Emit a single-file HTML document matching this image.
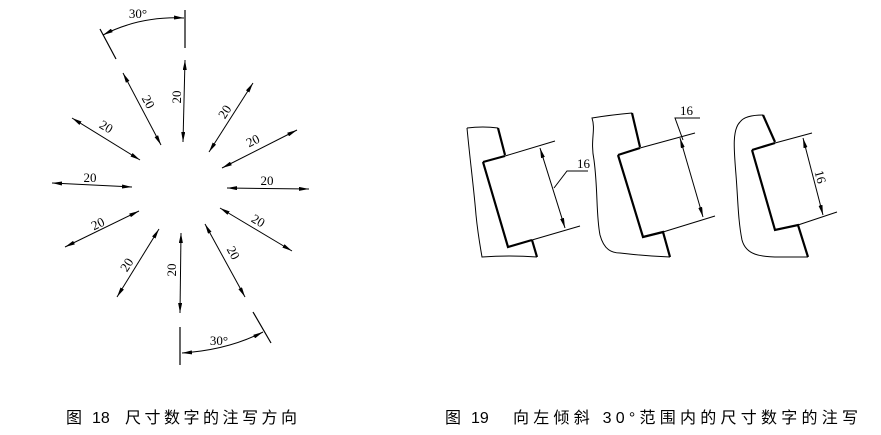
<!DOCTYPE html>
<html><head><meta charset="utf-8"><style>
html,body{margin:0;padding:0;background:#fff;}
svg{display:block;}
text{font-family:"Liberation Serif",serif;font-size:13px;fill:#000;}
.cap{font-family:"Liberation Sans","Noto Sans CJK SC",sans-serif;font-size:16px;}
</style></head><body>
<svg width="881" height="435" viewBox="0 0 881 435" xmlns="http://www.w3.org/2000/svg">
<defs>
<marker id="a" viewBox="0 0 10 4" refX="10" refY="2" markerWidth="10" markerHeight="4" markerUnits="userSpaceOnUse" orient="auto-start-reverse"><path d="M0,0L10,2L0,4z" fill="#000"/></marker>
</defs>
<g stroke="#000" stroke-width="1" fill="none" marker-start="url(#a)" marker-end="url(#a)">
<line x1="185" y1="60" x2="183" y2="142"/>
<line x1="123" y1="73" x2="161" y2="145"/>
<line x1="72" y1="118" x2="140" y2="160"/>
<line x1="52" y1="183" x2="132" y2="187"/>
<line x1="65" y1="247" x2="139" y2="211"/>
<line x1="117" y1="297" x2="159" y2="229"/>
<line x1="180" y1="313" x2="181" y2="233"/>
<line x1="205" y1="224" x2="245" y2="297"/>
<line x1="220" y1="208" x2="292" y2="251"/>
<line x1="227" y1="188" x2="309" y2="189"/>
<line x1="222" y1="168" x2="297" y2="130"/>
<line x1="209" y1="152" x2="253" y2="83"/>
<path d="M103,35 Q140,16 184,18"/>
<path d="M182,353 Q228,350 263,332"/>
</g>
<g stroke="#000" stroke-width="1.2" fill="none">
<line x1="185" y1="10" x2="185" y2="48"/>
<line x1="100" y1="29" x2="116" y2="59"/>
<line x1="180" y1="327" x2="180" y2="365"/>
<line x1="253" y1="312" x2="271" y2="343"/>
</g>
<g text-anchor="middle">
<text transform="translate(177,97) rotate(-90)" dy="4">20</text>
<text transform="translate(148,102) rotate(62)" dy="4">20</text>
<text transform="translate(106,127) rotate(31)" dy="4">20</text>
<text transform="translate(90,178)" dy="4">20</text>
<text transform="translate(98,224) rotate(-26)" dy="4">20</text>
<text transform="translate(127,265) rotate(-57)" dy="4">20</text>
<text transform="translate(172,270) rotate(-90)" dy="4">20</text>
<text transform="translate(233,253) rotate(62)" dy="4">20</text>
<text transform="translate(258,221) rotate(31)" dy="4">20</text>
<text transform="translate(267,181)" dy="4">20</text>
<text transform="translate(253,141) rotate(-27)" dy="4">20</text>
<text transform="translate(225,112) rotate(-57)" dy="4">20</text>
<text x="138" y="18">30°</text>
<text x="219" y="345">30°</text>
</g>
<!-- Fig A -->
<g stroke="#000" fill="none">
<path d="M467,128 Q483,126 498,128 M467,128 C470,160 474,190 476,215 C478,235 480,245 482,257 Q510,255 537,257" stroke-width="1"/>
<path d="M498,128 L505,155 M483,162 L505,156 M483,162 L508,247 L532,240 M532,240 L537,257" stroke-width="2.2"/>
<path d="M505,156 L555,141 M532,240 L580,226" stroke-width="1"/>
<line x1="540" y1="148" x2="565" y2="228" stroke-width="1" marker-start="url(#a)" marker-end="url(#a)"/>
<path d="M554,188 L567,171 L588,171" stroke-width="1"/>
<!-- Fig B -->
<path d="M632,113 Q610,115 592,118 C596,130 590,140 594,160 C598,190 596,215 600,235 C604,250 612,253 620,253 Q645,256 670,257" stroke-width="1"/>
<path d="M632,113 L640,147 M618,155 L640,148 M618,155 L643,237 L663,232 L670,257" stroke-width="2.2"/>
<path d="M640,148 L695,133 M663,232 L715,216" stroke-width="1"/>
<line x1="680" y1="138" x2="703" y2="217" stroke-width="1" marker-start="url(#a)" marker-end="url(#a)"/>
<path d="M683,140 L675,118 L700,118" stroke-width="1"/>
<!-- Fig C -->
<path d="M763,115 Q745,115 740,122 C732,130 734,150 736,175 C738,200 738,220 742,240 C746,255 760,257 780,257 L808,257" stroke-width="1"/>
<path d="M763,115 L775,142 M752,150 L775,143 M752,150 L775,230 L798,225 L808,257" stroke-width="2.2"/>
<path d="M775,143 L812,133 M798,225 L837,212" stroke-width="1"/>
<line x1="803" y1="138" x2="823" y2="215" stroke-width="1" marker-start="url(#a)" marker-end="url(#a)"/>
</g>
<text x="577" y="168">16</text>
<text x="680" y="115">16</text>
<text transform="translate(820,177) rotate(75)" text-anchor="middle" dy="4">16</text>
<g class="cap">
<text class="cap" x="66" y="423">图</text>
<text class="cap" x="92" y="423">18</text>
<text class="cap" x="125" y="423" textLength="172" lengthAdjust="spacing">尺寸数字的注写方向</text>
<text class="cap" x="445" y="423">图</text>
<text class="cap" x="471" y="423">19</text>
<text class="cap" x="513" y="423" textLength="345" lengthAdjust="spacing">向左倾斜 30°范围内的尺寸数字的注写</text>
</g>
</svg>
</body></html>
